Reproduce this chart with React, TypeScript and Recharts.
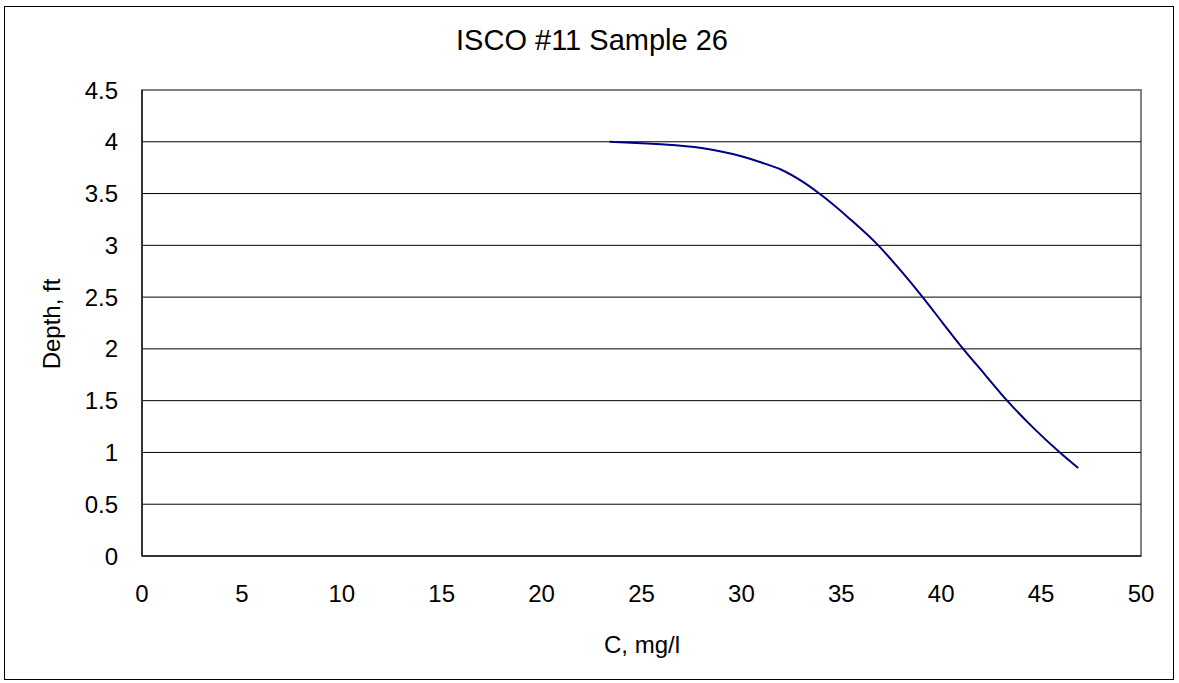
import { LineChart, Line, XAxis, YAxis, ReferenceLine, ReferenceArea } from 'recharts';

const concentration = [23.4, 25, 26, 28, 30, 31, 32, 33.1, 33.9, 35.4, 36.85, 38, 39.07, 40.1, 41.1, 42.2, 43.3, 44.6, 45.94, 46.86];
const depth = [4.0, 3.985, 3.975, 3.94, 3.86, 3.8, 3.73, 3.61, 3.5, 3.26, 3.0, 2.75, 2.5, 2.245, 2.0, 1.75, 1.5, 1.24, 1.0, 0.85];
const xTicks = [0, 5, 10, 15, 20, 25, 30, 35, 40, 45, 50];
const yTicks = [0, 0.5, 1, 1.5, 2, 2.5, 3, 3.5, 4, 4.5];
const gridLevels = [0.5, 1, 1.5, 2, 2.5, 3, 3.5, 4];

const data = concentration.map((c, i) => ({ c, depth: depth[i] }));

const font = '"Liberation Sans", Arial, sans-serif';

export default function App() {
  return (
    <div style={{ position: 'absolute', left: 0, top: 0, width: 1179, height: 683, background: '#fff', fontFamily: font, color: '#000' }}>
      <div
        style={{
          position: 'absolute',
          left: 4,
          top: 6,
          width: 1168,
          height: 672,
          border: '1px solid #000',
        }}
      />
      <div style={{ position: 'absolute', left: 0, width: 1184, top: 26, textAlign: 'center', fontSize: 29, lineHeight: 1 }}>
        ISCO #11 Sample 26
      </div>
      <div
        style={{
          position: 'absolute',
          left: 52,
          top: 324,
          fontSize: 24,
          lineHeight: 1,
          transform: 'translate(-50%, -50%) rotate(-90deg)',
          whiteSpace: 'nowrap',
        }}
      >
        Depth, ft
      </div>
      <div style={{ position: 'absolute', left: 142, width: 1000, top: 633, textAlign: 'center', fontSize: 24, lineHeight: 1 }}>
        C, mg/l
      </div>
      <div style={{ position: 'absolute', left: 0, top: 0 }}>
        <LineChart width={1179} height={683} data={data} margin={{ top: 90, right: 38, left: 0, bottom: 37 }}>
          <XAxis
            dataKey="c"
            type="number"
            domain={[0, 50]}
            ticks={xTicks}
            tickLine={false}
            tickSize={0}
            tickMargin={29}
            height={90}
            axisLine={false}
            tick={{ fontSize: 24, fill: '#000', fontFamily: font }}
          />
          <YAxis
            type="number"
            domain={[0, 4.5]}
            ticks={yTicks}
            tickLine={false}
            tickSize={0}
            tickMargin={24}
            width={142}
            axisLine={false}
            tick={{ fontSize: 24, fill: '#000', fontFamily: font }}
          />
          <ReferenceArea x1={0} x2={50} y1={0} y2={4.5} fill="none" stroke="#808080" strokeWidth={2} ifOverflow="visible" />
          {gridLevels.map((v) => (
            <ReferenceLine key={v} y={v} stroke="#000" strokeWidth={1} />
          ))}
          <ReferenceLine y={0} stroke="#333" strokeWidth={2} />
          <ReferenceLine x={0} stroke="#333" strokeWidth={2} />
          <Line
            dataKey="depth"
            type="monotone"
            stroke="#000080"
            strokeWidth={2}
            dot={false}
            isAnimationActive={false}
          />
        </LineChart>
      </div>
    </div>
  );
}
